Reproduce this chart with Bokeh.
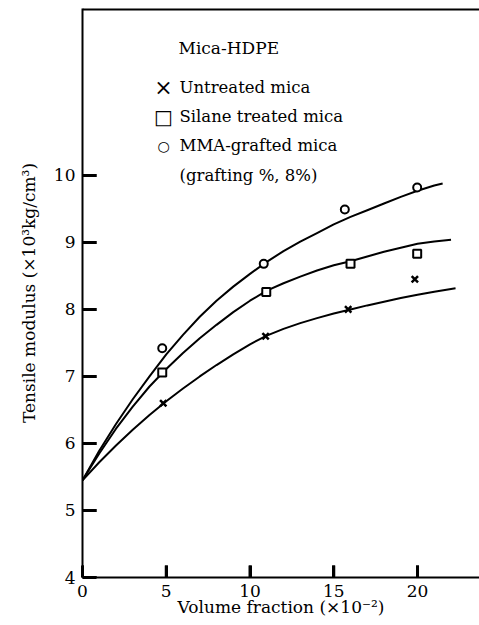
from bokeh.plotting import figure
from bokeh.models import Range1d, FixedTicker, Label
from bokeh.embed import file_html
from bokeh.resources import INLINE

# measured points
untreated_x = [4.82, 10.93, 15.86, 19.84]
untreated_y = [6.60, 7.60, 8.00, 8.45]
silane_x = [4.76, 10.97, 16.0, 19.98]
silane_y = [7.06, 8.26, 8.68, 8.83]
mma_x = [4.76, 10.82, 15.66, 19.98]
mma_y = [7.42, 8.68, 9.49, 9.82]

# fitted curves
untreated_fit_x = [0, 1, 2, 3, 4, 5, 6, 7, 8, 9, 10, 11, 12, 13, 14, 15, 16, 17, 18, 19, 20, 21, 22, 22.27]
untreated_fit_y = [5.45, 5.72, 5.97, 6.205, 6.425, 6.63, 6.82, 7.0, 7.17, 7.33, 7.48, 7.61, 7.71, 7.795,
                   7.87, 7.94, 8.0, 8.06, 8.115, 8.17, 8.22, 8.265, 8.305, 8.315]
silane_fit_x = [0, 1, 2, 3, 4, 5, 6, 7, 8, 9, 10, 11, 12, 13, 14, 15, 16, 17, 18, 19, 20, 21, 22]
silane_fit_y = [5.45, 5.85, 6.22, 6.55, 6.85, 7.11, 7.35, 7.57, 7.77, 7.96, 8.13, 8.28, 8.39, 8.49,
                8.58, 8.66, 8.72, 8.79, 8.86, 8.92, 8.98, 9.015, 9.04]
mma_fit_x = [0, 1, 2, 3, 4, 5, 6, 7, 8, 9, 10, 11, 12, 13, 14, 15, 16, 17, 18, 19, 20, 21, 21.5]
mma_fit_y = [5.45, 5.89, 6.29, 6.66, 7.0, 7.33, 7.62, 7.89, 8.13, 8.34, 8.53, 8.71, 8.87, 9.01,
             9.14, 9.27, 9.38, 9.48, 9.58, 9.68, 9.77, 9.85, 9.88]

x_ticks = [0, 5, 10, 15, 20]
y_ticks = [4, 5, 6, 7, 8, 9, 10]

FONT = "DejaVu Serif"
X0, X1, Y0, Y1 = 0, 23.7, 4, 12.49
W, H = 479, 625
BL, BT, BB = 82, 8, 48
FW, FH = W - BL, H - BT - BB

p = figure(width=W, height=H, output_backend="svg", toolbar_location=None,
           x_range=Range1d(X0, X1), y_range=Range1d(Y0, Y1),
           min_border_left=BL, min_border_right=0, min_border_top=BT, min_border_bottom=BB,
           outline_line_color=None)
p.grid.visible = False

for ax in (p.xaxis[0], p.yaxis[0]):
    ax.axis_line_width = 2
    ax.axis_line_color = "#000000"
    ax.major_tick_line_width = 3
    ax.major_tick_line_color = "#000000"
    ax.major_tick_out = 0
    ax.major_label_text_font = FONT
    ax.major_label_text_font_size = "17px"
    ax.major_label_text_color = "black"
    ax.major_label_standoff = 7
    ax.axis_label_text_font = FONT
    ax.axis_label_text_font_size = "17px"
    ax.axis_label_text_font_style = "normal"
    ax.axis_label_text_color = "black"

p.xaxis[0].ticker = FixedTicker(ticks=x_ticks)
p.yaxis[0].ticker = FixedTicker(ticks=y_ticks)
p.xaxis[0].major_tick_in = 12
p.yaxis[0].major_tick_in = 14
p.xaxis[0].axis_label = "Volume fraction (×10⁻²)"
p.xaxis[0].axis_label_standoff = -3
p.yaxis[0].axis_label = "Tensile modulus (×10³kg/cm³)"
p.yaxis[0].axis_label_standoff = 12

# inward tick marks also drawn as glyphs, built from the tick lists
ytl = 14 * (X1 - X0) / FW
xtl = 12 * (Y1 - Y0) / FH
p.multi_line(xs=[[X0, X0 + ytl] for _ in y_ticks], ys=[[t, t] for t in y_ticks],
             line_color="#000000", line_width=3)
p.multi_line(xs=[[t, t] for t in x_ticks], ys=[[Y0, Y0 + xtl] for _ in x_ticks],
             line_color="#000000", line_width=3)

# top frame line (the reference has no right-hand border)
p.line([X0, X1], [Y1, Y1], line_color="black", line_width=4)

p.line(mma_fit_x, mma_fit_y, line_color="black", line_width=2)
p.line(silane_fit_x, silane_fit_y, line_color="black", line_width=2)
p.line(untreated_fit_x, untreated_fit_y, line_color="black", line_width=2)

p.scatter(mma_x, mma_y, marker="circle", size=8, line_color="black", line_width=2, fill_color="white")
p.scatter(silane_x, silane_y, marker="square", size=8, line_color="black", line_width=2, fill_color="white")
p.scatter(untreated_x, untreated_y, marker="x", size=9, line_color="black", line_width=2.5)

def lab(x, y, t, align="left", size="16.5px"):
    p.add_layout(Label(x=x, y=y, x_units="screen", y_units="screen", text=t,
                       text_font=FONT, text_font_size=size, text_color="black",
                       text_align=align, text_baseline="middle"))

# key
lab(96, 530, "Mica-HDPE", size="17px")
lab(81, 490, "×", align="center", size="22px")
lab(97, 490, "Untreated mica")
lab(81, 461, "□", align="center", size="20px")
lab(97, 461, "Silane treated mica")
lab(81, 432, "○", align="center", size="14px")
lab(97, 432, "MMA-grafted mica")
lab(97, 402, "(grafting %, 8%)")

open("out.html", "w").write(file_html(p, INLINE))
